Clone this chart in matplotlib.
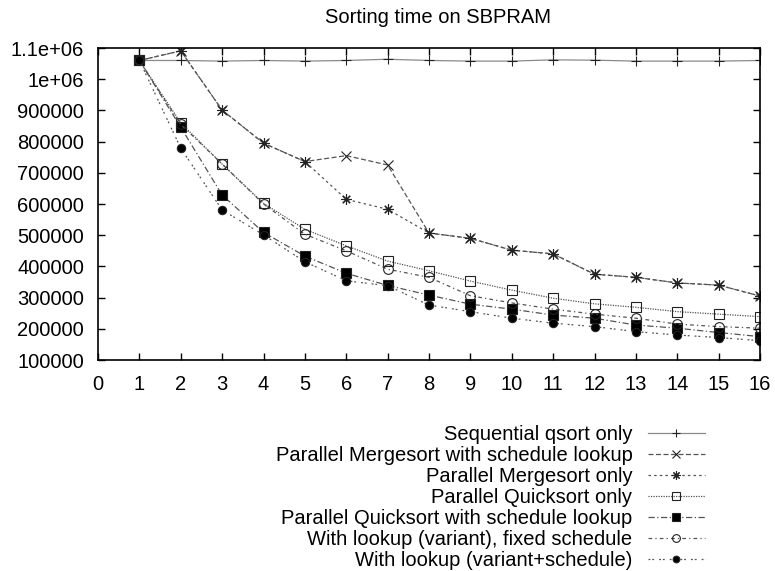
import numpy as np
import matplotlib
matplotlib.use("Agg")
import matplotlib.pyplot as plt
from matplotlib.ticker import FuncFormatter

plt.rcParams['font.family'] = ['Liberation Sans', 'DejaVu Sans']

# Data

procs = [1, 2, 3, 4, 5, 6, 7, 8, 9, 10, 11, 12, 13, 14, 15, 16]

seq_qsort = [1060000, 1060000, 1058000, 1060000, 1058000, 1060000, 1064000, 1060000,
             1058000, 1058000, 1062000, 1061000, 1058000, 1058000, 1058000, 1060000]

merge_lookup = [1060000, 1091000, 901000, 795000, 736000, 755000, 725000, 507000,
                490000, 452000, 440000, 375000, 365000, 347000, 340000, 305000]

merge_only = [1060000, 1091000, 901000, 795000, 736000, 615000, 583000, 507000,
              490000, 452000, 440000, 375000, 365000, 347000, 340000, 305000]

quick_only = [1060000, 860000, 728000, 602000, 519000, 466000, 417000, 386000,
              353000, 324000, 298000, 280000, 269000, 255000, 247000, 239000]

quick_lookup = [1060000, 846000, 629000, 509000, 433000, 378000, 339000, 308000,
                279000, 263000, 244000, 234000, 212000, 202000, 188000, 175000]

variant_fixed = [1060000, 855000, 728000, 600000, 503000, 450000, 391000, 365000,
                 306000, 283000, 263000, 247000, 234000, 215000, 207000, 202000]

variant_sched = [1060000, 779000, 581000, 501000, 415000, 354000, 338000, 276000,
                 255000, 234000, 218000, 207000, 191000, 180000, 172000, 162000]

names = ["Sequential qsort only",
         "Parallel Mergesort with schedule lookup",
         "Parallel Mergesort only",
         "Parallel Quicksort only",
         "Parallel Quicksort with schedule lookup",
         "With lookup (variant), fixed schedule",
         "With lookup (variant+schedule)"]

series = [seq_qsort, merge_lookup, merge_only, quick_only, quick_lookup,
          variant_fixed, variant_sched]

# gnuplot-ish monochrome styles
styles = [
    dict(ls='-', marker='+', color='#8a8a8a', ms=7),
    dict(ls=(0, (4, 2)), marker='x', color='#555555', ms=7),
    dict(ls=(0, (2, 2.5)), marker=(8, 2, 0), color='#555555', ms=7.5),
    dict(ls=(0, (1, 1)), marker='s', color='#555555', ms=7, mfc='none'),
    dict(ls=(0, (5, 2, 1, 2)), marker='s', color='#555555', ms=7, mfc='black'),
    dict(ls=(0, (3, 2.5, 1, 2.5)), marker='o', color='#555555', ms=7, mfc='none'),
    dict(ls=(0, (1.5, 1.5, 1.5, 4)), marker='o', color='#555555', ms=6, mfc='black'),
]

fig = plt.figure(figsize=(7.75, 5.71), dpi=100)
ax = fig.add_axes([98/775, 1 - 360/571, 662/775, 312/571])

for i in range(len(series)):
    st = dict(styles[i])
    mfc = st.pop('mfc', 'black')
    ax.plot(procs, series[i], label=names[i], lw=0.9, mec='#222222', mfc=mfc,
            mew=0.8, **st)

ax.set_xlim(0, 16)
ax.set_ylim(100000, 1100000)
ax.set_xticks(np.arange(0, 17, 1))
ax.set_yticks(np.arange(100000, 1100001, 100000))
ax.yaxis.set_major_formatter(FuncFormatter(lambda v, p: '%g' % v))

ax.tick_params(direction='in', top=True, right=True, length=5, width=1,
               labelsize=14.5, colors='black')
ax.tick_params(axis='y', pad=10)
ax.tick_params(axis='x', pad=11)
for s in ax.spines.values():
    s.set_linewidth(1.2)

ax.set_title("Sorting time on SBPRAM", fontsize=14.5, pad=18, x=0.514)

fig.legend(loc='upper right', bbox_to_anchor=(715/775, 1 - 415/571),
           frameon=False, markerfirst=False, fontsize=14.5, borderpad=0,
           handlelength=2.85, handletextpad=0.75, labelspacing=0.095,
           markerscale=0.8)

plt.savefig("out.png", dpi=100)
